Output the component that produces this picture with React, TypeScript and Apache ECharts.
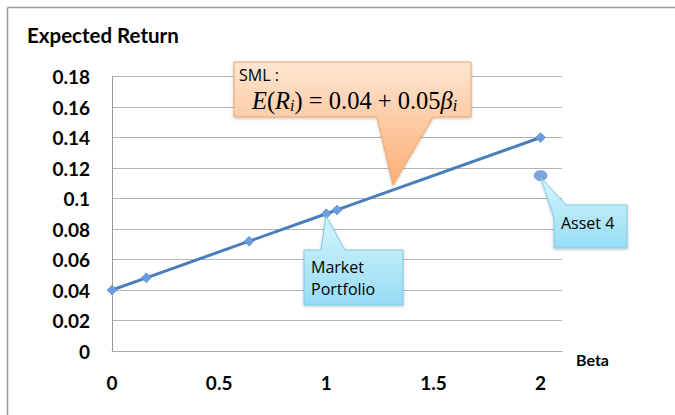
import React, { useEffect, useRef } from "react";
import * as echarts from "echarts";

const betas = [0, 0.16, 0.64, 1, 1.05, 2];
const returns = [0.04, 0.048, 0.072, 0.09, 0.0925, 0.14];
const assetBeta = [2];
const assetReturn = [0.115];
const yTitle = "Expected Return";
const xTitle = "Beta";

const LABEL_FONT = "Lato";
const CALLOUT_FONT = "Open Sans";

export default function App() {
  const ref = useRef<HTMLDivElement>(null);
  useEffect(() => {
    if (!ref.current) return;
    const chart = echarts.init(ref.current, null, { renderer: "svg" });
    const lineData = betas.map((b, i) => [b, returns[i]]);
    const assetData = assetBeta.map((b, i) => [b, assetReturn[i]]);
    const orangeGrad = new echarts.graphic.LinearGradient(0, 0, 0, 1, [
      { offset: 0, color: "#fee6d2" },
      { offset: 1, color: "#fbae74" },
    ]);
    const cyanGrad = () =>
      new echarts.graphic.LinearGradient(0, 0, 0, 1, [
        { offset: 0, color: "#d6f5fd" },
        { offset: 1, color: "#97dcf4" },
      ]);
    chart.setOption({
      animation: false,
      backgroundColor: "#ffffff",
      grid: { left: 112, right: 113, top: 76.5, bottom: 64, containLabel: false },
      xAxis: {
        type: "value",
        min: 0,
        max: 2.1,
        interval: 0.5,
        axisLine: { show: true, lineStyle: { color: "#aaaaaa", width: 1 } },
        axisTick: { show: false },
        splitLine: { show: false },
        axisLabel: {
          showMaxLabel: false,
          margin: 22,
          color: "#000",
          fontFamily: LABEL_FONT,
          fontWeight: "bold",
          fontSize: 19,
        },
      },
      yAxis: {
        type: "value",
        min: 0,
        max: 0.18,
        interval: 0.02,
        axisLine: { show: true, lineStyle: { color: "#999999", width: 1 } },
        axisTick: { show: false },
        splitLine: { show: true, lineStyle: { color: "#b3b3b3", width: 1 } },
        axisLabel: {
          margin: 22,
          color: "#000",
          fontFamily: LABEL_FONT,
          fontWeight: "bold",
          fontSize: 19,
          formatter: (v: number) => String(parseFloat(v.toFixed(2))),
        },
      },
      series: [
        {
          type: "line",
          data: lineData,
          symbol: "diamond",
          symbolSize: 10,
          lineStyle: { color: "#4a7ebb", width: 3 },
          itemStyle: { color: "#6b9ee0", borderColor: "#4a7ebb", borderWidth: 0.5 },
          z: 3,
        },
        {
          type: "scatter",
          data: assetData,
          symbol: "circle",
          symbolSize: [13, 10],
          itemStyle: { color: "#5d90dc", borderColor: "#3f72bf", borderWidth: 0.5 },
          z: 4,
        },
      ],
      graphic: [
        {
          type: "line",
          shape: { x1: 7.5, y1: 7.5, x2: 675, y2: 7.5 },
          style: { stroke: "#999", lineWidth: 1.5 },
        },
        {
          type: "line",
          shape: { x1: 7.5, y1: 7.5, x2: 7.5, y2: 415 },
          style: { stroke: "#999", lineWidth: 1.5 },
        },
        {
          type: "text",
          x: 27,
          y: 35,
          style: {
            text: yTitle,
            fontFamily: LABEL_FONT,
            fontWeight: "bold",
            fontSize: 20.5,
            fill: "#000",
            verticalAlign: "middle",
          },
        },
        {
          type: "text",
          x: 576,
          y: 359,
          style: {
            text: xTitle,
            fontFamily: LABEL_FONT,
            fontWeight: "bold",
            fontSize: 16,
            fill: "#000",
            verticalAlign: "middle",
          },
        },
        {
          type: "polygon",
          z: 100,
          shape: {
            points: [
              [234, 62],
              [471, 62],
              [471, 117],
              [433, 117],
              [393, 185],
              [377, 117],
              [234, 117],
            ],
          },
          style: {
            fill: orangeGrad,
            stroke: "#f0a468",
            lineWidth: 1,
            shadowBlur: 3,
            shadowColor: "rgba(0,0,0,0.25)",
            shadowOffsetY: 1,
          },
        },
        {
          type: "text",
          z: 101,
          x: 239,
          y: 75,
          style: {
            text: "SML :",
            fontFamily: CALLOUT_FONT,
            fontSize: 16,
            lineHeight: 16,
            fill: "#000",
            verticalAlign: "middle",
          },
        },
        {
          type: "text",
          z: 101,
          x: 252,
          y: 100,
          style: {
            text: "{it|E}{n|(}{it|R}{sub|i}{n|) = 0.04 + 0.05}{it|β}{sub|i}",
            verticalAlign: "middle",
            fill: "#000",
            rich: {
              it: { fontFamily: "Liberation Serif", fontStyle: "italic", fontSize: 24.5, fill: "#000" },
              n: { fontFamily: "Liberation Serif", fontSize: 24.5, fill: "#000" },
              sub: {
                fontFamily: "Liberation Serif",
                fontStyle: "italic",
                fontSize: 16,
                fill: "#000",
                verticalAlign: "bottom",
                padding: [11, 0, 0, 0],
              },
            },
          },
        },
        {
          type: "polygon",
          z: 100,
          shape: {
            points: [
              [304, 250],
              [321, 250],
              [326, 216],
              [345, 250],
              [403, 250],
              [403, 305],
              [304, 305],
            ],
          },
          style: {
            fill: cyanGrad(),
            stroke: "#7ccae4",
            lineWidth: 1,
            shadowBlur: 3,
            shadowColor: "rgba(0,0,0,0.25)",
            shadowOffsetY: 1,
          },
        },
        {
          type: "text",
          z: 101,
          x: 311,
          y: 278,
          style: {
            text: "Market\nPortfolio",
            fontFamily: CALLOUT_FONT,
            fontSize: 16,
            lineHeight: 22,
            fill: "#000",
            verticalAlign: "middle",
          },
        },
        {
          type: "polygon",
          z: 100,
          shape: {
            points: [
              [541, 178],
              [566, 205],
              [627, 205],
              [627, 248],
              [554, 248],
              [554, 218],
            ],
          },
          style: {
            fill: cyanGrad(),
            stroke: "#7ccae4",
            lineWidth: 1,
            shadowBlur: 3,
            shadowColor: "rgba(0,0,0,0.25)",
            shadowOffsetY: 1,
          },
        },
        {
          type: "text",
          z: 101,
          x: 561,
          y: 223,
          style: {
            text: "Asset 4",
            fontFamily: CALLOUT_FONT,
            fontSize: 16,
            fill: "#000",
            verticalAlign: "middle",
          },
        },
      ],
    });
    return () => chart.dispose();
  }, []);
  return (
    <div
      ref={ref}
      style={{ position: "absolute", left: 0, top: 0, width: 675, height: 415 }}
    />
  );
}
